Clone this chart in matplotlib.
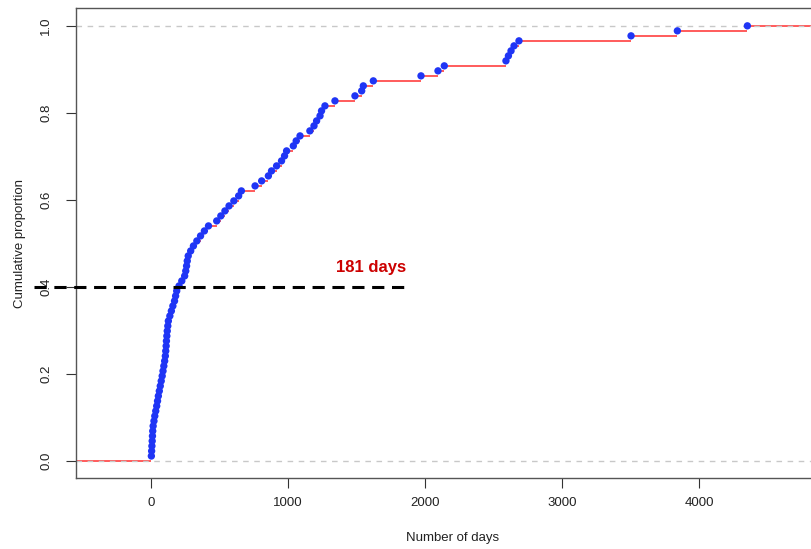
import numpy as np
import matplotlib
matplotlib.use('Agg')
import matplotlib.pyplot as plt

plt.rcParams['font.family'] = ['Liberation Sans', 'DejaVu Sans']

# days to event, sorted
days = [3, 5, 7, 9, 11, 13, 16, 22, 28, 35, 42, 48, 54, 61, 68, 75, 82, 88, 94, 100,
        105, 108, 111, 113, 116, 119, 123, 127, 138, 149, 160, 172, 180, 188, 205, 225,
        246, 254, 260, 265, 272, 290, 310, 335, 362, 390, 420, 480, 510, 540, 570, 605,
        640, 660, 760, 808, 857, 880, 917, 953, 975, 990, 1039, 1060, 1088, 1160, 1190,
        1209, 1234, 1245, 1270, 1343, 1489, 1538, 1550, 1623, 1971, 2095, 2141, 2591,
        2609, 2628, 2650, 2686, 3504, 3842, 4353]
cut_prop = 0.4
label_txt = '181 days'

x = np.array(days, dtype=float)
n = len(x)
y = np.arange(1, n + 1) / n

fig = plt.figure(figsize=(8.12, 5.49), dpi=100)
ax = fig.add_axes([76/812, 1-478/549, (830-76)/812, (478-8)/549])
ax.set_xlim(-547, 4956)
ax.set_ylim(-0.039, 1.041)

# horizontal steps of the ecdf
red = '#ff4040'
ax.hlines(0, -10000, x[0], color=red, lw=1.2, zorder=2)
ax.hlines(y[:-1], x[:-1], x[1:], color=red, lw=1.2, zorder=2)
ax.hlines(1, x[-1], 10000, color=red, lw=1.2, zorder=2)
# reference lines at 0 and 1
ax.axhline(0, color='#c8c8c8', ls=(0, (4, 4)), lw=1, zorder=2.5)
ax.axhline(1, color='#c8c8c8', ls=(0, (4, 4)), lw=1, zorder=2.5)

ax.scatter(x, y, s=28, color='#1f35f5', edgecolors='none', zorder=3)

# cut-off line
ax.plot([-854, 1854], [cut_prop, cut_prop], color='black', lw=2.2,
        ls=(0, (4, 2.5)), clip_on=False, zorder=4)
ax.text(1606, 0.444, label_txt, color='#cc0000', fontsize=12, fontweight='bold',
        ha='center', va='center')

ax.set_xticks([0, 1000, 2000, 3000, 4000])
ax.set_yticks([0, 0.2, 0.4, 0.6, 0.8, 1.0])
ax.set_yticklabels(['0.0', '0.2', '0.4', '0.6', '0.8', '1.0'], rotation=90, va='center')
ax.tick_params(axis='both', direction='out', length=7, width=0.8, colors='#333333',
               labelsize=9.5, labelcolor='#222222')
ax.tick_params(axis='x', pad=7)
ax.tick_params(axis='y', pad=10)
for s in ax.spines.values():
    s.set_color('#555555')
    s.set_linewidth(1)

ax.set_xlabel('Number of days', fontsize=9.5, color='#222222', labelpad=16)
ax.set_ylabel('Cumulative proportion', fontsize=9.5, color='#222222', labelpad=10)

fig.savefig('out.png', dpi=100)
